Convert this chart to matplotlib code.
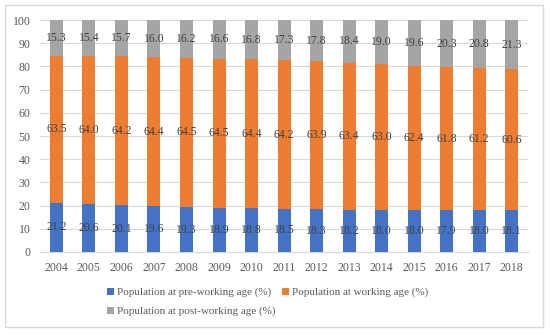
import numpy as np
import matplotlib.pyplot as plt
from matplotlib.patches import Rectangle

# --- dane ---
years = [str(y) for y in range(2004, 2019)]
pre_working = [21.2, 20.6, 20.1, 19.6, 19.3, 18.9, 18.8, 18.5, 18.3, 18.2, 18.0, 18.0, 17.9, 18.0, 18.1]
working = [63.5, 64.0, 64.2, 64.4, 64.5, 64.5, 64.4, 64.2, 63.9, 63.4, 63.0, 62.4, 61.8, 61.2, 60.6]
post_working = [15.3, 15.4, 15.7, 16.0, 16.2, 16.6, 16.8, 17.3, 17.8, 18.4, 19.0, 19.6, 20.3, 20.8, 21.3]
series_names = ["Population at pre-working age (%)",
                "Population at working age (%)",
                "Population at post-working age (%)"]
colors = ["#4472C4", "#ED7D31", "#A5A5A5"]

plt.rcParams['font.family'] = ['Liberation Serif', 'DejaVu Serif']

fig = plt.figure(figsize=(5.5, 3.35), dpi=100)
ax = fig.add_axes([0.073, 0.248, 0.887, 0.692])

# ramka wokół całego wykresu
fig.patches.append(Rectangle((0.009, 0.024), 0.978, 0.96, transform=fig.transFigure,
                             fill=False, edgecolor="#D9D9D9", linewidth=1.0))

x = np.arange(len(years))
bottom = np.zeros(len(years))
handles = []
for vals, name, c in zip([pre_working, working, post_working], series_names, colors):
    vals = np.array(vals)
    bars = ax.bar(x, vals, 0.4, bottom=bottom, color=c, label=name, zorder=3)
    handles.append(bars)
    for xi, b, v in zip(x, bottom, vals):
        ax.text(xi, b + v / 2, f"{v:.1f}", ha="center", va="center",
                fontsize=8.5, color="#404040", zorder=4)
    bottom += vals

ax.set_xlim(-0.5, len(years) - 0.5)
ax.set_ylim(0, 100)
ax.set_yticks(range(0, 101, 10))
ax.set_xticks(x)
ax.set_xticklabels(years)
ax.grid(axis="y", color="#D9D9D9", linewidth=0.8, zorder=0)
for s in ["top", "right", "left"]:
    ax.spines[s].set_visible(False)
ax.spines["bottom"].set_color("#D9D9D9")
ax.tick_params(length=0, labelsize=8.5, colors="#595959", pad=7)

# kolejność kolumnowa -> wiersze jak w oryginale
order = [0, 2, 1]
fig.legend([handles[i] for i in order], [series_names[i] for i in order],
           loc="upper left", bbox_to_anchor=(0.187, 0.155),
           ncol=2, frameon=False, fontsize=8, handlelength=0.6, handleheight=0.6,
           handletextpad=0.3, columnspacing=0.6, labelcolor="#595959",
           borderaxespad=0, labelspacing=0.85)

fig.savefig("out.png", dpi=100)
